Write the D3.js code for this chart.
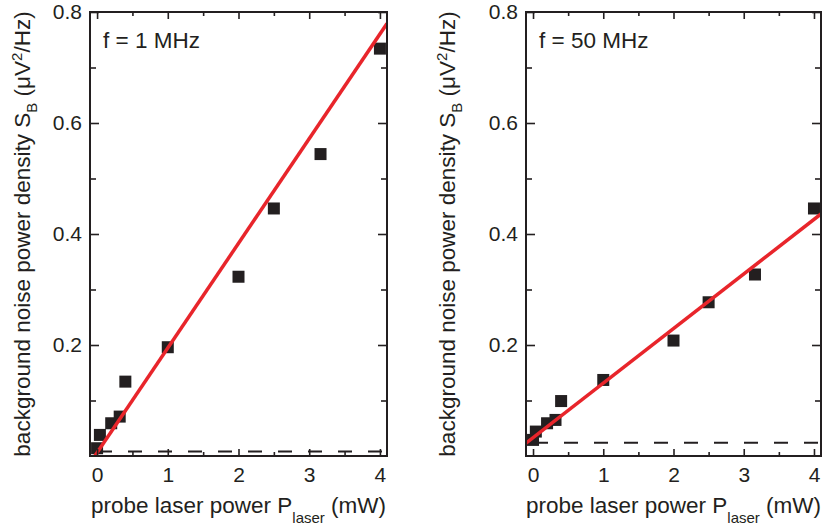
<!DOCTYPE html>
<html>
<head>
<meta charset="utf-8">
<script src="https://cdn.jsdelivr.net/npm/d3@7"></script>
<style>
  html, body { margin: 0; padding: 0; background: #fff; }
  svg { display: block; }
  text { font-family: "Liberation Sans", Arial, sans-serif; fill: #231f20; }
</style>
</head>
<body>
<svg id="chart" width="829" height="531"></svg>
<script>
// ---------------- data ----------------
const powerX = [0, 0.04, 0.2, 0.32, 0.4, 1, 2, 2.5, 3.16, 4];           // probe laser power (mW)
const noise1MHz  = [0.014, 0.038, 0.059, 0.071, 0.134, 0.196, 0.323, 0.446, 0.544, 0.734];
const noise50MHz = [0.029, 0.044, 0.059, 0.065, 0.099, 0.137, 0.208, 0.277, 0.327, 0.446];
const fitIntercept = [0.006, 0.033];
const fitSlope     = [0.1886, 0.0983];
const backgroundLevel = [0.008, 0.024];
const panelLabels = ["f = 1 MHz", "f = 50 MHz"];
const xMajorTicks = [0, 1, 2, 3, 4];
const xMinorTicks = [0.5, 1.5, 2.5, 3.5];
const yMajorTicks = [0.2, 0.4, 0.6, 0.8];
const yMinorTicks = [0.1, 0.3, 0.5, 0.7];

// ---------------- layout ----------------
const svg = d3.select("#chart");
const ink = "#231f20";
const red = "#e8252b";
const plotTop = 12, plotBottom = 456;
const titleSize = "22.5px", subSize = "15px", tickSize = "21px";
const panels = [
  { left: 90,  right: 387, series: noise1MHz,  titleX: 30 },
  { left: 526, right: 821, series: noise50MHz, titleX: 455 }
];

panels.forEach((p, i) => {
  const x = d3.scaleLinear().domain([-0.1, 4.1]).range([p.left, p.right]);
  const y = d3.scaleLinear().domain([0, 0.8]).range([plotBottom, plotTop]);
  const g = svg.append("g");

  const clipId = "clip" + i;
  svg.append("defs").append("clipPath").attr("id", clipId)
    .append("rect").attr("x", p.left).attr("y", plotTop)
    .attr("width", p.right - p.left).attr("height", plotBottom - plotTop);

  // dashed background level
  g.append("line")
    .attr("x1", x.range()[0]).attr("x2", x.range()[1])
    .attr("y1", y(backgroundLevel[i])).attr("y2", y(backgroundLevel[i]))
    .attr("stroke", ink).attr("stroke-width", 2)
    .attr("stroke-dasharray", "14,16").attr("stroke-dashoffset", 22)
    .attr("clip-path", `url(#${clipId})`);

  // data squares
  const pts = powerX.map((v, k) => ({ x: v, y: p.series[k] }));
  const sz = 12;
  g.append("g").attr("clip-path", `url(#${clipId})`)
    .selectAll("rect").data(pts).enter().append("rect")
    .attr("x", d => x(d.x) - sz / 2).attr("y", d => y(d.y) - sz / 2)
    .attr("width", sz).attr("height", sz).attr("fill", ink);

  // linear fit
  const xd = x.domain();
  const line = d3.line().x(d => x(d[0])).y(d => y(d[1]));
  g.append("path")
    .datum(xd.map(v => [v, fitIntercept[i] + fitSlope[i] * v]))
    .attr("d", line).attr("fill", "none")
    .attr("stroke", red).attr("stroke-width", 3.5)
    .attr("clip-path", `url(#${clipId})`);

  // axes
  const styleAxis = sel => {
    sel.select(".domain").remove();
    sel.selectAll(".tick line").attr("stroke", ink).attr("stroke-width", 1.6);
    sel.selectAll(".tick text").style("font-size", tickSize).attr("fill", ink)
      .style("font-family", '"Liberation Sans", Arial, sans-serif');
  };
  g.append("g").attr("transform", `translate(0,${plotBottom})`)
    .call(d3.axisBottom(x).tickValues(xMajorTicks).tickSize(-7).tickPadding(11).tickFormat(d3.format("d")))
    .call(styleAxis);
  g.append("g").attr("transform", `translate(0,${plotBottom})`)
    .call(d3.axisBottom(x).tickValues(xMinorTicks).tickSize(-4).tickFormat(""))
    .call(styleAxis);
  g.append("g").attr("transform", `translate(0,${plotTop})`)
    .call(d3.axisTop(x).tickValues(xMajorTicks).tickSize(-7).tickFormat(""))
    .call(styleAxis);
  g.append("g").attr("transform", `translate(0,${plotTop})`)
    .call(d3.axisTop(x).tickValues(xMinorTicks).tickSize(-4).tickFormat(""))
    .call(styleAxis);
  g.append("g").attr("transform", `translate(${p.left},0)`)
    .call(d3.axisLeft(y).tickValues(yMajorTicks).tickSize(-9).tickPadding(8).tickFormat(d3.format(".1f")))
    .call(styleAxis);
  g.append("g").attr("transform", `translate(${p.left},0)`)
    .call(d3.axisLeft(y).tickValues(yMinorTicks).tickSize(-6).tickFormat(""))
    .call(styleAxis);
  g.append("g").attr("transform", `translate(${p.right},0)`)
    .call(d3.axisRight(y).tickValues(yMajorTicks).tickSize(-9).tickFormat(""))
    .call(styleAxis);
  g.append("g").attr("transform", `translate(${p.right},0)`)
    .call(d3.axisRight(y).tickValues(yMinorTicks).tickSize(-6).tickFormat(""))
    .call(styleAxis);

  // frame
  g.append("rect").attr("x", p.left).attr("y", plotTop)
    .attr("width", p.right - p.left).attr("height", plotBottom - plotTop)
    .attr("fill", "none").attr("stroke", ink).attr("stroke-width", 2);

  // panel label
  g.append("text").attr("x", p.left + 13).attr("y", 48)
    .style("font-size", titleSize).text(panelLabels[i]);

  // x title
  const xt = g.append("text").attr("x", (p.left + p.right) / 2).attr("y", 513)
    .attr("text-anchor", "middle").style("font-size", titleSize);
  xt.append("tspan").text("probe laser power P");
  xt.append("tspan").attr("dy", 10).style("font-size", subSize).text("laser");
  xt.append("tspan").attr("dy", -10).text(" (mW)");

  // y title
  const yt = g.append("text")
    .attr("transform", `translate(${p.titleX},${(plotTop + plotBottom) / 2}) rotate(-90)`)
    .attr("text-anchor", "middle").style("font-size", titleSize);
  yt.append("tspan").text("background noise power density S");
  yt.append("tspan").attr("dy", 7).style("font-size", subSize).text("B");
  yt.append("tspan").attr("dy", -7).text(" (\u03BCV");
  yt.append("tspan").attr("dy", -8).style("font-size", subSize).text("2");
  yt.append("tspan").attr("dy", 8).text("/Hz)");
});
</script>
</body>
</html>
